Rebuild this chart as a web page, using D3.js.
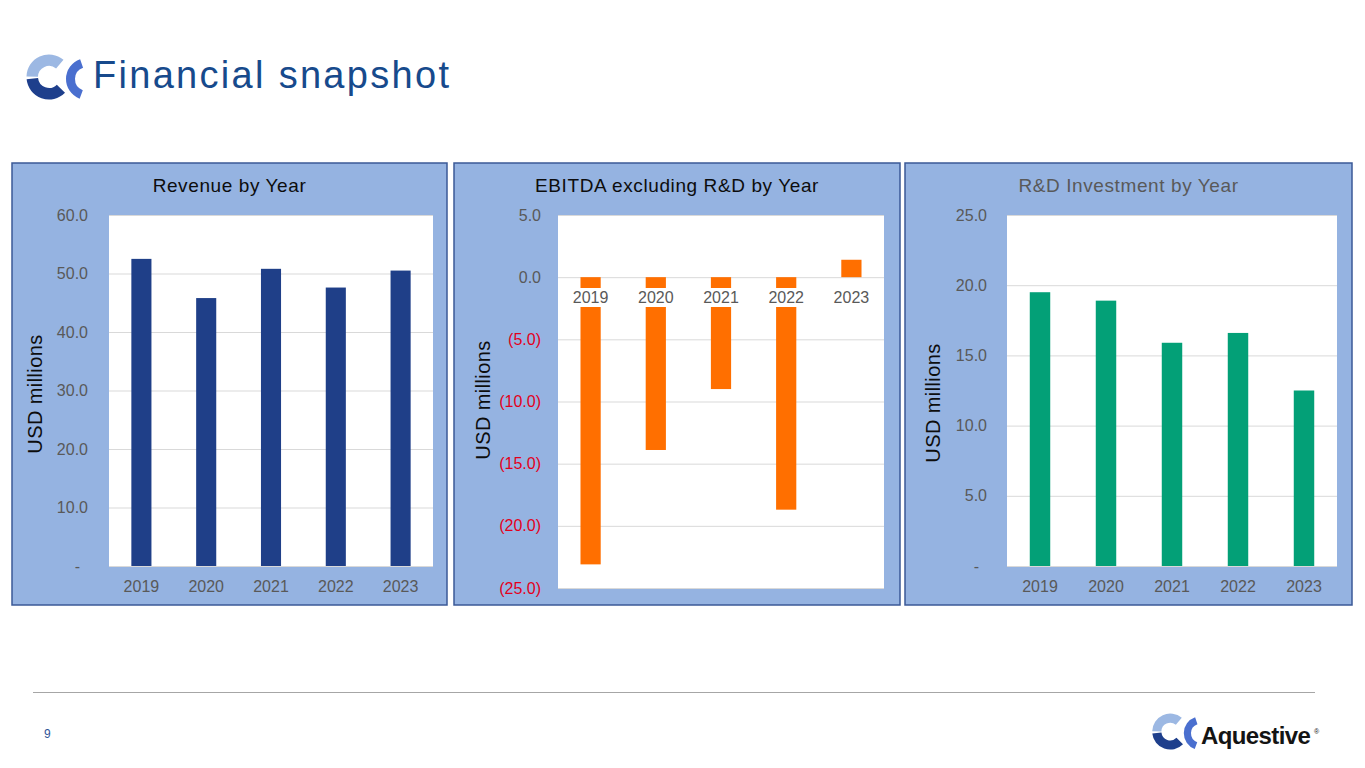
<!DOCTYPE html>
<html>
<head>
<meta charset="utf-8">
<script src="https://cdn.jsdelivr.net/npm/d3@7"></script>
<style>
  body { margin: 0; background: #fff; }
  svg text { font-family: "Liberation Sans", Arial, sans-serif; }
</style>
</head>
<body>
<script>
var years = ["2019", "2020", "2021", "2022", "2023"];
var revenue = [52.5, 45.8, 50.8, 47.6, 50.5];
var ebitdaExRD = [-23.1, -13.9, -9.0, -18.7, 1.4];
var rdInvestment = [19.5, 18.9, 15.9, 16.6, 12.5];
var revenueTicks = [0, 10, 20, 30, 40, 50, 60];
var ebitdaTicks = [-25, -20, -15, -10, -5, 0, 5];
var rdTicks = [0, 5, 10, 15, 20, 25];

var w = 1365, h = 768;

var svg = d3.select("body")
  .append("svg")
  .attr("width", w)
  .attr("height", h);

// company mark, drawn in local coords (about 27..82 x 54..100)
function logo(g) {
  var big = d3.arc().innerRadius(11).outerRadius(22.5);
  var small = d3.arc().innerRadius(12).outerRadius(21);
  g.append("path")
    .attr("transform", "translate(49,77)")
    .attr("d", big({startAngle: -Math.PI / 2 + 0.02, endAngle: 0.7}))
    .attr("fill", "#9cb8e3");
  g.append("path")
    .attr("transform", "translate(49,77)")
    .attr("d", big({startAngle: 2.35, endAngle: 3 * Math.PI / 2 - 0.1}))
    .attr("fill", "#1e3f8c");
  g.append("path")
    .attr("transform", "translate(87,79)")
    .attr("d", small({startAngle: 3.5, endAngle: 5.95}))
    .attr("fill", "#4a6fcf");
}

logo(svg.append("g"));

svg.append("text")
  .attr("x", 93)
  .attr("y", 88)
  .attr("font-size", 38)
  .attr("letter-spacing", 2.3)
  .attr("fill", "#174a8c")
  .text("Financial snapshot");

// footer
svg.append("line")
  .attr("x1", 33).attr("x2", 1315)
  .attr("y1", 692.5).attr("y2", 692.5)
  .attr("stroke", "#a6a6a6").attr("stroke-width", 1);

svg.append("text")
  .attr("x", 44).attr("y", 738)
  .attr("font-size", 12)
  .attr("fill", "#2f5597")
  .text("9");

logo(svg.append("g").attr("transform", "translate(1131,670) scale(0.8)"));

svg.append("text")
  .attr("x", 1201).attr("y", 744)
  .attr("font-size", 24)
  .attr("font-weight", "bold")
  .attr("letter-spacing", -0.6)
  .attr("fill", "#141414")
  .text("Aquestive");
svg.append("text")
  .attr("x", 1314).attr("y", 734)
  .attr("font-size", 7)
  .attr("fill", "#141414")
  .text("®");

function barPanel(cfg) {
  var g = svg.append("g");

  g.append("rect")
    .attr("x", cfg.box[0]).attr("y", cfg.box[1])
    .attr("width", cfg.box[2] - cfg.box[0]).attr("height", cfg.box[3] - cfg.box[1])
    .attr("fill", "#95b3e1")
    .attr("stroke", "#3b5997")
    .attr("stroke-width", 1.5);

  var x = d3.scaleBand()
    .domain(years)
    .range([cfg.plot[0], cfg.plot[2]])
    .paddingInner(0.69)
    .paddingOuter(0.345);

  var y = d3.scaleLinear()
    .domain(d3.extent(cfg.ticks))
    .range([cfg.plot[3], cfg.plot[1]]);

  g.append("rect")
    .attr("x", cfg.plot[0]).attr("y", cfg.plot[1])
    .attr("width", cfg.plot[2] - cfg.plot[0]).attr("height", cfg.plot[3] - cfg.plot[1])
    .attr("fill", "#fff");

  // gridlines
  g.append("g")
    .attr("transform", "translate(" + cfg.plot[0] + ",0)")
    .call(d3.axisLeft(y).tickValues(cfg.ticks).tickSize(-(cfg.plot[2] - cfg.plot[0])).tickFormat(""))
    .call(a => a.select(".domain").remove())
    .call(a => a.selectAll("line").attr("stroke", "#d9d9d9"));

  g.selectAll("rect.bar")
    .data(cfg.values)
    .enter()
    .append("rect")
    .attr("class", "bar")
    .attr("x", (d, i) => x(years[i]))
    .attr("width", x.bandwidth())
    .attr("y", d => y(Math.max(0, d)))
    .attr("height", d => Math.abs(y(d) - y(0)))
    .attr("fill", cfg.color);

  // y tick labels
  g.append("g")
    .attr("transform", "translate(" + cfg.tickRight + ",0)")
    .call(d3.axisLeft(y).tickValues(cfg.ticks).tickSize(0).tickPadding(0).tickFormat(cfg.fmt))
    .call(a => a.select(".domain").remove())
    .call(a => a.selectAll("text")
      .attr("font-size", 16)
      .attr("font-family", "Liberation Sans, Arial, sans-serif")
      .attr("fill", d => d < 0 ? "#e3001b" : "#595959")
      .attr("dx", d => (d === 0 && cfg.dash) ? -8 : 0));

  // x labels
  var xl = g.append("g")
    .attr("transform", "translate(0," + cfg.xLabelY + ")")
    .call(d3.axisBottom(x).tickSize(0).tickPadding(0))
    .call(a => a.select(".domain").remove());
  if (cfg.labelBg) {
    xl.selectAll(".tick").insert("rect", "text")
      .attr("x", -20).attr("y", -9)
      .attr("width", 40).attr("height", 19)
      .attr("fill", "#fff");
  }
  xl.selectAll("text")
    .attr("font-size", 16)
    .attr("font-family", "Liberation Sans, Arial, sans-serif")
    .attr("fill", "#595959")
    .attr("dy", "0.35em")
    .attr("y", 0);

  g.append("text")
    .attr("x", (cfg.box[0] + cfg.box[2]) / 2)
    .attr("y", 192)
    .attr("text-anchor", "middle")
    .attr("font-size", 19)
    .attr("letter-spacing", 0.6)
    .attr("fill", cfg.titleColor)
    .text(cfg.title);

  g.append("text")
    .attr("transform", "translate(" + cfg.yTitle[0] + "," + cfg.yTitle[1] + ") rotate(-90)")
    .attr("text-anchor", "middle")
    .attr("font-size", 20)
    .attr("letter-spacing", 0.4)
    .attr("fill", "#0d0d0d")
    .text("USD millions");
}

var zeroDash = d => d === 0 ? "-" : d3.format(".1f")(d);

barPanel({
  box: [12, 163, 447, 605],
  plot: [109, 215, 433, 566],
  values: revenue,
  ticks: revenueTicks,
  color: "#1f3f88",
  fmt: zeroDash,
  dash: true,
  tickRight: 88,
  xLabelY: 586,
  title: "Revenue by Year",
  titleColor: "#0d0d0d",
  yTitle: [42, 394]
});

barPanel({
  box: [454, 163, 900, 605],
  plot: [558, 215, 884, 588],
  values: ebitdaExRD,
  ticks: ebitdaTicks,
  color: "#ff6f00",
  fmt: d => d < 0 ? "(" + d3.format(".1f")(-d) + ")" : d3.format(".1f")(d),
  dash: false,
  tickRight: 541,
  xLabelY: 297,
  labelBg: true,
  title: "EBITDA excluding R&D by Year",
  titleColor: "#0d0d0d",
  yTitle: [490, 400]
});

barPanel({
  box: [905, 163, 1352, 605],
  plot: [1007, 215, 1337, 566],
  values: rdInvestment,
  ticks: rdTicks,
  color: "#03a077",
  fmt: zeroDash,
  dash: true,
  tickRight: 987,
  xLabelY: 586,
  title: "R&D Investment by Year",
  titleColor: "#595959",
  yTitle: [940, 403]
});
</script>
</body>
</html>
